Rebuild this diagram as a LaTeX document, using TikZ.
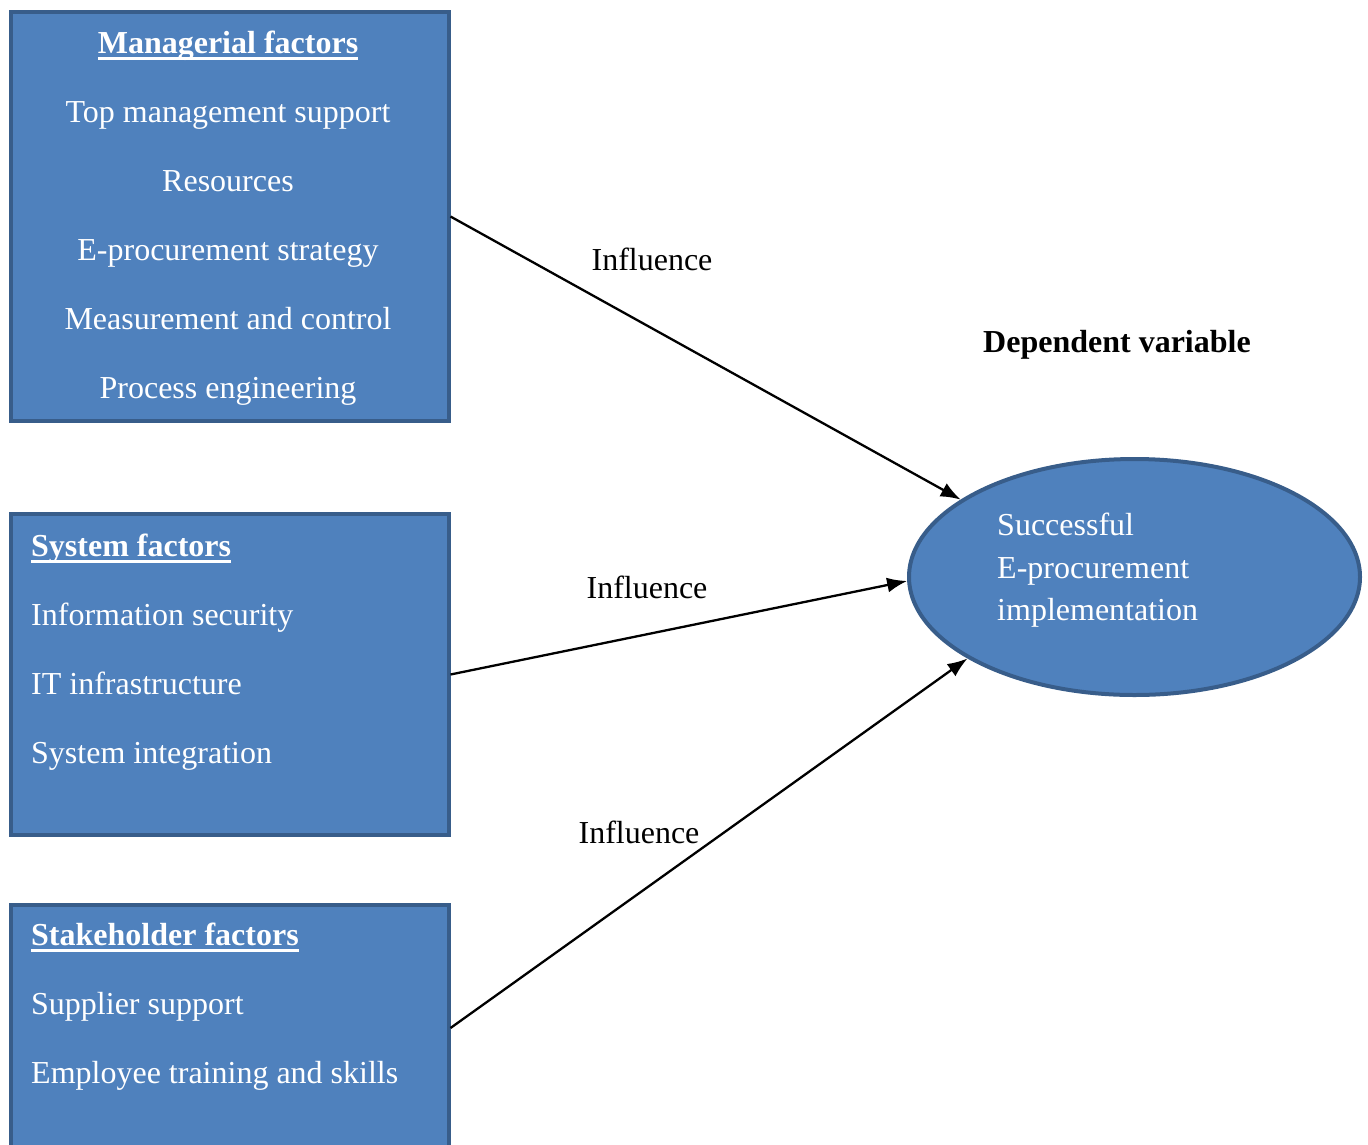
\documentclass[tikz,border=0pt]{standalone}
\usepackage{fontspec}
\setmainfont{Liberation Serif}
\usetikzlibrary{arrows.meta,shapes.geometric}
\definecolor{boxfill}{HTML}{4F81BD}
\definecolor{boxedge}{HTML}{385D8A}
% bold heading with a rule underneath
\newcommand\headline[1]{\setbox0\hbox{\bfseries #1}\rlap{\usebox0}\rule[-7pt]{\wd0}{3pt}}
\tikzset{
  factorbox/.style={draw=boxedge, fill=boxfill, line width=4pt, rectangle,
    anchor=north west, inner sep=0pt},
  outcome/.style={draw=boxedge, fill=boxfill, line width=4pt, ellipse, inner sep=0pt},
  txt/.style={inner sep=0pt, font=\fontsize{32}{38}\selectfont},
  inbox/.style={txt, text=white},
  influence/.style={line width=2.3pt, -{Latex[length=20pt,width=15pt]}}
}
\begin{document}
\begin{tikzpicture}[x=1pt,y=-1pt]
\useasboundingbox (0,0) rectangle (1368,1144);

% factor groups
\node[factorbox, minimum width=438pt, minimum height=409pt] (box1) at (8.5,10) {};
\node[factorbox, minimum width=438pt, minimum height=321pt] (box2) at (8.5,512) {};
\node[factorbox, minimum width=438pt, minimum height=246pt] (box3) at (8.5,903) {};

% dependent variable
\node[outcome, minimum width=451pt, minimum height=236pt] (ell) at (1134.5,577) {};

% managerial factors
\node[inbox, anchor=base] (m0) at (228,53)  {\headline{Managerial factors}};
\node[inbox, anchor=base] (m1) at (228,122) {Top management support};
\node[inbox, anchor=base] (m2) at (228,191) {Resources};
\node[inbox, anchor=base] (m3) at (228,260) {E-procurement strategy};
\node[inbox, anchor=base] (m4) at (228,329) {Measurement and control};
\node[inbox, anchor=base] (m5) at (228,398) {Process engineering};

% system factors
\node[inbox, anchor=base west] (s0) at (31,556) {\headline{System factors}};
\node[inbox, anchor=base west] (s1) at (31,625) {Information security};
\node[inbox, anchor=base west] (s2) at (31,694) {IT infrastructure};
\node[inbox, anchor=base west] (s3) at (31,763) {System integration};

% stakeholder factors
\node[inbox, anchor=base west] (k0) at (31,945)  {\headline{Stakeholder factors}};
\node[inbox, anchor=base west] (k1) at (31,1014) {Supplier support};
\node[inbox, anchor=base west] (k2) at (31,1083) {Employee training and skills};

% outcome text
\node[inbox, anchor=base west] (e0) at (997,535) {Successful};
\node[inbox, anchor=base west] (e1) at (997,578) {E-procurement};
\node[inbox, anchor=base west] (e2) at (997,620) {implementation};

\node[txt, anchor=base, font=\fontsize{32}{38}\selectfont\bfseries] (dep) at (1117,352) {Dependent variable};

% connector labels
\node[txt, anchor=base] (i1) at (652,270) {Influence};
\node[txt, anchor=base] (i2) at (647,598) {Influence};
\node[txt, anchor=base] (i3) at (639,843) {Influence};

% connectors
\draw[influence] (box1.east) -- (ell.156.4);
\draw[influence] (box2.east) -- (ell.181.5);
\draw[influence] (box3.east) -- (ell.206.5);
\end{tikzpicture}
\end{document}
